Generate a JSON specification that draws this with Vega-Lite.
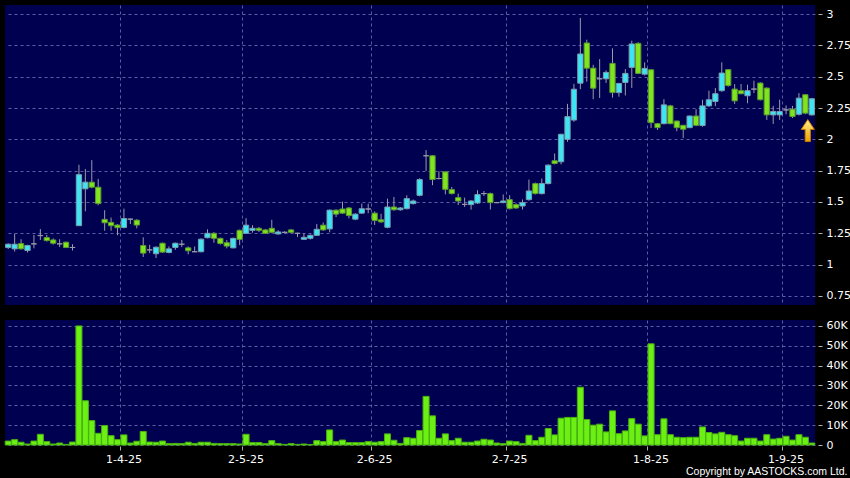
{
  "$schema": "https://vega.github.io/schema/vega-lite/v6.json",
  "background": "#000000",
  "padding": {"left": 4, "top": 5, "right": 0, "bottom": 0},
  "spacing": 14,
  "title": {"text": "Copyright by AASTOCKS.com Ltd.", "orient": "bottom", "anchor": "end", "color": "#ffffff", "font": "Liberation Sans", "fontSize": 10.5, "fontWeight": "normal", "offset": 3, "dx": -3},
  "config": {
    "view": {"fill": "#000050", "stroke": null},
    "axis": {"labelColor": "#ffffff", "labelFont": "DejaVu Sans", "labelFontSize": 11, "labelOverlap": false, "labelFlush": false, "domain": false, "gridColor": "#5c5ca4", "gridDash": [3, 3], "gridWidth": 1, "tickColor": "#b0b0b0", "tickSize": 4, "title": null}
  },
  "data": {"values": [
    {"d":"6-3-25","o":1.137,"h":1.17,"l":1.125,"c":1.163,"v":2000},
    {"d":"7-3-25","o":1.126,"h":1.245,"l":1.105,"c":1.163,"v":2700},
    {"d":"10-3-25","o":1.168,"h":1.203,"l":1.12,"c":1.126,"v":1400},
    {"d":"11-3-25","o":1.113,"h":1.158,"l":1.097,"c":1.153,"v":500},
    {"d":"12-3-25","o":1.166,"h":1.237,"l":1.13,"c":1.166,"v":2000},
    {"d":"13-3-25","o":1.232,"h":1.284,"l":1.197,"c":1.232,"v":5400},
    {"d":"14-3-25","o":1.216,"h":1.237,"l":1.184,"c":1.192,"v":1700},
    {"d":"17-3-25","o":1.197,"h":1.21,"l":1.16,"c":1.171,"v":500},
    {"d":"18-3-25","o":1.166,"h":1.203,"l":1.14,"c":1.166,"v":1000},
    {"d":"19-3-25","o":1.179,"h":1.184,"l":1.132,"c":1.137,"v":300},
    {"d":"20-3-25","o":1.137,"h":1.163,"l":1.113,"c":1.137,"v":1500},
    {"d":"21-3-25","o":1.311,"h":1.797,"l":1.311,"c":1.718,"v":60000},
    {"d":"24-3-25","o":1.605,"h":1.763,"l":1.426,"c":1.658,"v":22300},
    {"d":"25-3-25","o":1.658,"h":1.834,"l":1.61,"c":1.618,"v":12300},
    {"d":"26-3-25","o":1.618,"h":1.684,"l":1.474,"c":1.487,"v":5900},
    {"d":"27-3-25","o":1.361,"h":1.434,"l":1.271,"c":1.334,"v":9800},
    {"d":"28-3-25","o":1.337,"h":1.376,"l":1.271,"c":1.311,"v":4700},
    {"d":"31-3-25","o":1.316,"h":1.324,"l":1.234,"c":1.295,"v":2700},
    {"d":"1-4-25","o":1.297,"h":1.447,"l":1.29,"c":1.368,"v":5100},
    {"d":"2-4-25","o":1.363,"h":1.368,"l":1.324,"c":1.363,"v":1000},
    {"d":"3-4-25","o":1.355,"h":1.363,"l":1.29,"c":1.316,"v":1900},
    {"d":"7-4-25","o":1.153,"h":1.218,"l":1.061,"c":1.092,"v":6800},
    {"d":"8-4-25","o":1.118,"h":1.158,"l":1.092,"c":1.118,"v":1500},
    {"d":"9-4-25","o":1.087,"h":1.145,"l":1.053,"c":1.139,"v":1400},
    {"d":"10-4-25","o":1.171,"h":1.176,"l":1.095,"c":1.1,"v":2000},
    {"d":"11-4-25","o":1.097,"h":1.145,"l":1.09,"c":1.126,"v":700},
    {"d":"14-4-25","o":1.137,"h":1.176,"l":1.118,"c":1.171,"v":800},
    {"d":"15-4-25","o":1.163,"h":1.197,"l":1.14,"c":1.163,"v":700},
    {"d":"16-4-25","o":1.134,"h":1.145,"l":1.082,"c":1.111,"v":1400},
    {"d":"17-4-25","o":1.103,"h":1.145,"l":1.103,"c":1.103,"v":800},
    {"d":"22-4-25","o":1.103,"h":1.21,"l":1.098,"c":1.203,"v":1400},
    {"d":"23-4-25","o":1.215,"h":1.282,"l":1.21,"c":1.25,"v":1400},
    {"d":"24-4-25","o":1.25,"h":1.26,"l":1.175,"c":1.21,"v":800},
    {"d":"25-4-25","o":1.21,"h":1.215,"l":1.16,"c":1.169,"v":700},
    {"d":"28-4-25","o":1.175,"h":1.196,"l":1.13,"c":1.148,"v":700},
    {"d":"29-4-25","o":1.134,"h":1.215,"l":1.13,"c":1.21,"v":700},
    {"d":"30-4-25","o":1.274,"h":1.28,"l":1.156,"c":1.202,"v":500},
    {"d":"2-5-25","o":1.25,"h":1.371,"l":1.245,"c":1.315,"v":5400},
    {"d":"6-5-25","o":1.274,"h":1.315,"l":1.255,"c":1.29,"v":1200},
    {"d":"7-5-25","o":1.29,"h":1.3,"l":1.26,"c":1.274,"v":1200},
    {"d":"8-5-25","o":1.277,"h":1.285,"l":1.245,"c":1.25,"v":700},
    {"d":"9-5-25","o":1.29,"h":1.358,"l":1.25,"c":1.258,"v":2200},
    {"d":"12-5-25","o":1.245,"h":1.275,"l":1.24,"c":1.261,"v":700},
    {"d":"13-5-25","o":1.258,"h":1.266,"l":1.25,"c":1.258,"v":300},
    {"d":"14-5-25","o":1.277,"h":1.285,"l":1.255,"c":1.258,"v":700},
    {"d":"15-5-25","o":1.25,"h":1.255,"l":1.22,"c":1.25,"v":300},
    {"d":"16-5-25","o":1.202,"h":1.25,"l":1.198,"c":1.218,"v":500},
    {"d":"19-5-25","o":1.21,"h":1.24,"l":1.2,"c":1.234,"v":200},
    {"d":"20-5-25","o":1.234,"h":1.325,"l":1.23,"c":1.282,"v":2200},
    {"d":"21-5-25","o":1.315,"h":1.337,"l":1.27,"c":1.277,"v":1700},
    {"d":"22-5-25","o":1.285,"h":1.44,"l":1.258,"c":1.435,"v":7600},
    {"d":"23-5-25","o":1.435,"h":1.44,"l":1.38,"c":1.403,"v":1700},
    {"d":"26-5-25","o":1.444,"h":1.503,"l":1.405,"c":1.411,"v":2500},
    {"d":"27-5-25","o":1.452,"h":1.46,"l":1.37,"c":1.392,"v":1200},
    {"d":"28-5-25","o":1.363,"h":1.41,"l":1.355,"c":1.403,"v":1200},
    {"d":"29-5-25","o":1.411,"h":1.487,"l":1.405,"c":1.446,"v":1200},
    {"d":"30-5-25","o":1.444,"h":1.487,"l":1.41,"c":1.444,"v":1700},
    {"d":"2-6-25","o":1.411,"h":1.425,"l":1.317,"c":1.352,"v":1400},
    {"d":"3-6-25","o":1.358,"h":1.406,"l":1.335,"c":1.341,"v":1700},
    {"d":"4-6-25","o":1.298,"h":1.527,"l":1.29,"c":1.46,"v":5600},
    {"d":"5-6-25","o":1.46,"h":1.54,"l":1.43,"c":1.438,"v":2400},
    {"d":"6-6-25","o":1.438,"h":1.46,"l":1.43,"c":1.452,"v":800},
    {"d":"9-6-25","o":1.447,"h":1.553,"l":1.44,"c":1.527,"v":3700},
    {"d":"10-6-25","o":1.487,"h":1.52,"l":1.48,"c":1.508,"v":3400},
    {"d":"11-6-25","o":1.553,"h":1.69,"l":1.545,"c":1.679,"v":7300},
    {"d":"12-6-25","o":1.869,"h":1.914,"l":1.748,"c":1.869,"v":24500},
    {"d":"13-6-25","o":1.869,"h":1.875,"l":1.634,"c":1.679,"v":14700},
    {"d":"16-6-25","o":1.687,"h":1.745,"l":1.68,"c":1.687,"v":3400},
    {"d":"17-6-25","o":1.74,"h":1.745,"l":1.561,"c":1.601,"v":5600},
    {"d":"18-6-25","o":1.599,"h":1.62,"l":1.56,"c":1.567,"v":2200},
    {"d":"19-6-25","o":1.535,"h":1.567,"l":1.475,"c":1.508,"v":3400},
    {"d":"20-6-25","o":1.481,"h":1.535,"l":1.46,"c":1.481,"v":1400},
    {"d":"23-6-25","o":1.479,"h":1.515,"l":1.439,"c":1.508,"v":1400},
    {"d":"24-6-25","o":1.492,"h":1.594,"l":1.485,"c":1.559,"v":2000},
    {"d":"25-6-25","o":1.567,"h":1.588,"l":1.548,"c":1.567,"v":2900},
    {"d":"26-6-25","o":1.567,"h":1.575,"l":1.44,"c":1.495,"v":2500},
    {"d":"27-6-25","o":1.495,"h":1.5,"l":1.49,"c":1.495,"v":1000},
    {"d":"30-6-25","o":1.495,"h":1.56,"l":1.49,"c":1.508,"v":700},
    {"d":"2-7-25","o":1.519,"h":1.554,"l":1.44,"c":1.447,"v":2000},
    {"d":"3-7-25","o":1.479,"h":1.49,"l":1.445,"c":1.452,"v":1700},
    {"d":"4-7-25","o":1.468,"h":1.52,"l":1.44,"c":1.495,"v":800},
    {"d":"7-7-25","o":1.519,"h":1.679,"l":1.51,"c":1.588,"v":4900},
    {"d":"8-7-25","o":1.647,"h":1.655,"l":1.56,"c":1.567,"v":2200},
    {"d":"9-7-25","o":1.567,"h":1.687,"l":1.56,"c":1.647,"v":3900},
    {"d":"10-7-25","o":1.647,"h":1.8,"l":1.64,"c":1.794,"v":8300},
    {"d":"11-7-25","o":1.829,"h":1.887,"l":1.8,"c":1.807,"v":5100},
    {"d":"14-7-25","o":1.821,"h":2.045,"l":1.8,"c":2.04,"v":13500},
    {"d":"15-7-25","o":2.0,"h":2.283,"l":1.98,"c":2.181,"v":13900},
    {"d":"16-7-25","o":2.154,"h":2.443,"l":2.14,"c":2.4,"v":13900},
    {"d":"17-7-25","o":2.448,"h":2.969,"l":2.4,"c":2.681,"v":29100},
    {"d":"18-7-25","o":2.769,"h":2.795,"l":2.46,"c":2.568,"v":12800},
    {"d":"21-7-25","o":2.568,"h":2.595,"l":2.32,"c":2.408,"v":10000},
    {"d":"22-7-25","o":2.483,"h":2.64,"l":2.33,"c":2.483,"v":10500},
    {"d":"23-7-25","o":2.483,"h":2.55,"l":2.45,"c":2.534,"v":6600},
    {"d":"24-7-25","o":2.606,"h":2.726,"l":2.333,"c":2.373,"v":17200},
    {"d":"25-7-25","o":2.373,"h":2.45,"l":2.34,"c":2.446,"v":5700},
    {"d":"28-7-25","o":2.454,"h":2.56,"l":2.35,"c":2.526,"v":7100},
    {"d":"29-7-25","o":2.574,"h":2.787,"l":2.41,"c":2.761,"v":13300},
    {"d":"30-7-25","o":2.766,"h":2.775,"l":2.52,"c":2.526,"v":10500},
    {"d":"31-7-25","o":2.52,"h":2.614,"l":2.51,"c":2.566,"v":4600},
    {"d":"1-8-25","o":2.555,"h":2.56,"l":2.09,"c":2.133,"v":51000},
    {"d":"4-8-25","o":2.125,"h":2.13,"l":2.075,"c":2.093,"v":5200},
    {"d":"5-8-25","o":2.125,"h":2.32,"l":2.12,"c":2.275,"v":13200},
    {"d":"6-8-25","o":2.267,"h":2.275,"l":2.12,"c":2.125,"v":5200},
    {"d":"7-8-25","o":2.146,"h":2.15,"l":2.065,"c":2.093,"v":3900},
    {"d":"8-8-25","o":2.112,"h":2.115,"l":2.01,"c":2.08,"v":3700},
    {"d":"11-8-25","o":2.093,"h":2.19,"l":2.09,"c":2.186,"v":3900},
    {"d":"12-8-25","o":2.186,"h":2.24,"l":2.105,"c":2.112,"v":3900},
    {"d":"13-8-25","o":2.11,"h":2.316,"l":2.1,"c":2.267,"v":9100},
    {"d":"14-8-25","o":2.267,"h":2.388,"l":2.26,"c":2.316,"v":6300},
    {"d":"15-8-25","o":2.302,"h":2.41,"l":2.265,"c":2.364,"v":5600},
    {"d":"18-8-25","o":2.388,"h":2.615,"l":2.38,"c":2.529,"v":6400},
    {"d":"19-8-25","o":2.556,"h":2.56,"l":2.42,"c":2.43,"v":5200},
    {"d":"20-8-25","o":2.401,"h":2.441,"l":2.283,"c":2.307,"v":4700},
    {"d":"21-8-25","o":2.388,"h":2.441,"l":2.36,"c":2.364,"v":2000},
    {"d":"22-8-25","o":2.348,"h":2.436,"l":2.288,"c":2.388,"v":3400},
    {"d":"25-8-25","o":2.401,"h":2.468,"l":2.369,"c":2.401,"v":3400},
    {"d":"26-8-25","o":2.449,"h":2.455,"l":2.31,"c":2.316,"v":2000},
    {"d":"27-8-25","o":2.409,"h":2.415,"l":2.155,"c":2.195,"v":5200},
    {"d":"28-8-25","o":2.195,"h":2.267,"l":2.123,"c":2.222,"v":3000},
    {"d":"29-8-25","o":2.195,"h":2.316,"l":2.155,"c":2.222,"v":3400},
    {"d":"1-9-25","o":2.235,"h":2.27,"l":2.2,"c":2.235,"v":4400},
    {"d":"2-9-25","o":2.241,"h":2.267,"l":2.17,"c":2.182,"v":2500},
    {"d":"3-9-25","o":2.2,"h":2.369,"l":2.19,"c":2.329,"v":5200},
    {"d":"4-9-25","o":2.356,"h":2.36,"l":2.2,"c":2.209,"v":3900},
    {"d":"5-9-25","o":2.195,"h":2.33,"l":2.19,"c":2.324,"v":1000}
  ]},
  "vconcat": [
    {
      "width": 810,
      "height": 300,
      "encoding": {
        "x": {"field": "d", "type": "ordinal", "sort": null,
              "scale": {"paddingInner": 0, "paddingOuter": 0},
              "axis": {"values": ["1-4-25","2-5-25","2-6-25","2-7-25","1-8-25","1-9-25"], "bandPosition": 0, "labels": false, "ticks": false, "grid": true, "orient": "bottom"}}
      },
      "layer": [
        {
          "mark": {"type": "rule", "color": "#9a9aaa", "strokeWidth": 1},
          "encoding": {
            "y": {"field": "l", "type": "quantitative",
                  "scale": {"domain": [0.678, 3.072], "zero": false, "nice": false},
                  "axis": {"orient": "right", "values": [0.75, 1, 1.25, 1.5, 1.75, 2, 2.25, 2.5, 2.75, 3], "tickCount": 20, "format": ".2~f", "grid": true, "offset": 3, "labelPadding": 4}},
            "y2": {"field": "h"}
          }
        },
        {
          "mark": {"type": "bar", "width": {"band": 0.82}, "strokeWidth": 1},
          "encoding": {
            "y": {"field": "o", "type": "quantitative"},
            "y2": {"field": "c"},
            "fill": {"condition": [{"test": "datum.c > datum.o", "value": "#3ee4f2"}, {"test": "datum.c < datum.o", "value": "#80e41e"}], "value": "#9a9aaa"},
            "stroke": {"condition": [{"test": "datum.c > datum.o", "value": "#7a9cb0"}, {"test": "datum.c < datum.o", "value": "#5a9a30"}], "value": "#9a9aaa"}
          }
        },
        {
          "transform": [{"filter": "datum.d == '5-9-25'"}],
          "mark": {"type": "point", "filled": true, "shape": "M0,-1L0.6,-0.1L0.24,-0.1L0.24,1L-0.24,1L-0.24,-0.1L-0.6,-0.1Z", "size": 484, "yOffset": 15, "xOffset": -4, "opacity": 1,
                   "fill": {"gradient": "linear", "x1": 0, "y1": 0, "x2": 0, "y2": 1, "stops": [{"offset": 0, "color": "#fff08a"}, {"offset": 1, "color": "#f0a000"}]},
                   "stroke": "#c07800", "strokeWidth": 1},
          "encoding": {
            "y": {"field": "l", "type": "quantitative"}
          }
        }
      ]
    },
    {
      "width": 810,
      "height": 125,
      "mark": {"type": "bar", "width": {"band": 0.94}, "fill": "#6cf014", "stroke": "#48b010", "strokeWidth": 1},
      "encoding": {
        "x": {"field": "d", "type": "ordinal", "sort": null,
              "scale": {"paddingInner": 0, "paddingOuter": 0},
              "axis": {"values": ["1-4-25","2-5-25","2-6-25","2-7-25","1-8-25","1-9-25"], "bandPosition": 0, "labelAngle": 0, "grid": true, "labelPadding": 3, "offset": 1}},
        "y": {"field": "v", "type": "quantitative",
              "scale": {"domain": [0, 63000], "nice": false},
              "axis": {"orient": "right", "values": [0, 10000, 20000, 30000, 40000, 50000, 60000], "tickCount": 20, "labelExpr": "datum.value == 0 ? '0' : (datum.value / 1000) + 'K'", "grid": true, "offset": 3, "labelPadding": 4}}
      }
    }
  ]
}
